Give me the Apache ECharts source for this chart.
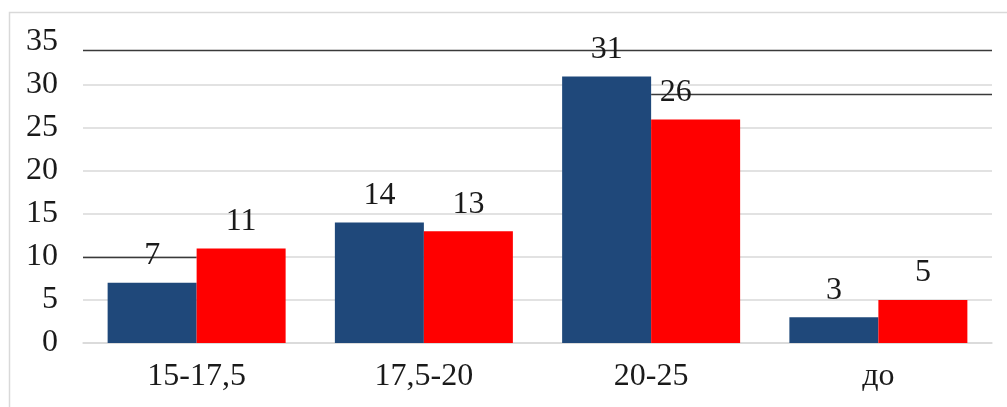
<!DOCTYPE html>
<html>
<head>
<meta charset="utf-8">
<script src="https://cdn.jsdelivr.net/npm/echarts@6/dist/echarts.min.js"></script>
<style>
html,body{margin:0;padding:0;background:#fff;}
#chart{width:1007px;height:407px;}
</style>
</head>
<body>
<div id="chart"></div>
<script>
const categories = ['15-17,5', '17,5-20', '20-25', 'до'];
const seriesA = [7, 14, 31, 3];
const seriesB = [11, 13, 26, 5];
const yTicks = {min: 0, max: 35, interval: 5};

const FONT = '"Liberation Serif", "Times New Roman", serif';
const chart = echarts.init(document.getElementById('chart'));

const labelBase = {show: true, position: 'top', distance: 11, fontSize: 32, fontFamily: FONT, color: '#1a1a1a'};

chart.setOption({
  animation: false,
  backgroundColor: '#fff',
  grid: {left: 83, right: 15, top: 42, bottom: 64, containLabel: false},
  xAxis: {
    type: 'category',
    data: categories,
    axisTick: {show: false},
    axisLine: {lineStyle: {color: '#d9d9d9', width: 1.5}},
    axisLabel: {fontSize: 32, fontFamily: FONT, color: '#1a1a1a', margin: 18}
  },
  yAxis: {
    type: 'value',
    min: yTicks.min, max: yTicks.max, interval: yTicks.interval,
    axisLine: {show: false},
    axisTick: {show: false},
    axisLabel: {fontSize: 32, fontFamily: FONT, color: '#1a1a1a', margin: 25},
    splitLine: {lineStyle: {color: ['#d9d9d9','#d9d9d9','#d9d9d9','#d9d9d9','#d9d9d9','#d9d9d9','#d9d9d9','rgba(0,0,0,0)'], width: 1.5}}
  },
  series: [
    {
      type: 'bar', data: seriesA, barWidth: 89, barGap: '0%',
      itemStyle: {color: '#1f487a'},
      label: labelBase
    },
    {
      type: 'bar',
      data: seriesB.map((v, i) => i === 2 ? {value: v, label: {offset: [-20, 0]}} : v),
      barWidth: 89,
      itemStyle: {color: '#ff0000'},
      label: labelBase
    }
  ]
});

// scan artifacts: dark stray lines and the frame border
const gx0 = 83, gx1 = 992;
const yp = v => chart.convertToPixel({yAxisIndex: 0}, v);
const xp = c => chart.convertToPixel({xAxisIndex: 0}, c);
const dark = {stroke: '#3a3a3a', lineWidth: 1.5};
chart.setOption({
  graphic: [
    {type: 'rect', shape: {x: 9.5, y: 12.5, width: 1100, height: 500}, style: {fill: 'none', stroke: '#d9d9d9', lineWidth: 1.5}, z: 0},
    {type: 'line', shape: {x1: gx0, y1: Math.round(yp(34.1)) + 0.5, x2: gx1, y2: Math.round(yp(34.1)) + 0.5}, style: dark, z: 1},
    {type: 'line', shape: {x1: xp(categories[2]), y1: Math.round(yp(28.95)) + 0.5, x2: gx1, y2: Math.round(yp(28.95)) + 0.5}, style: dark, z: 1},
    {type: 'line', shape: {x1: gx0, y1: Math.round(yp(10)) + 0.5, x2: xp(categories[0]), y2: Math.round(yp(10)) + 0.5}, style: dark, z: 1}
  ]
});
</script>
</body>
</html>
